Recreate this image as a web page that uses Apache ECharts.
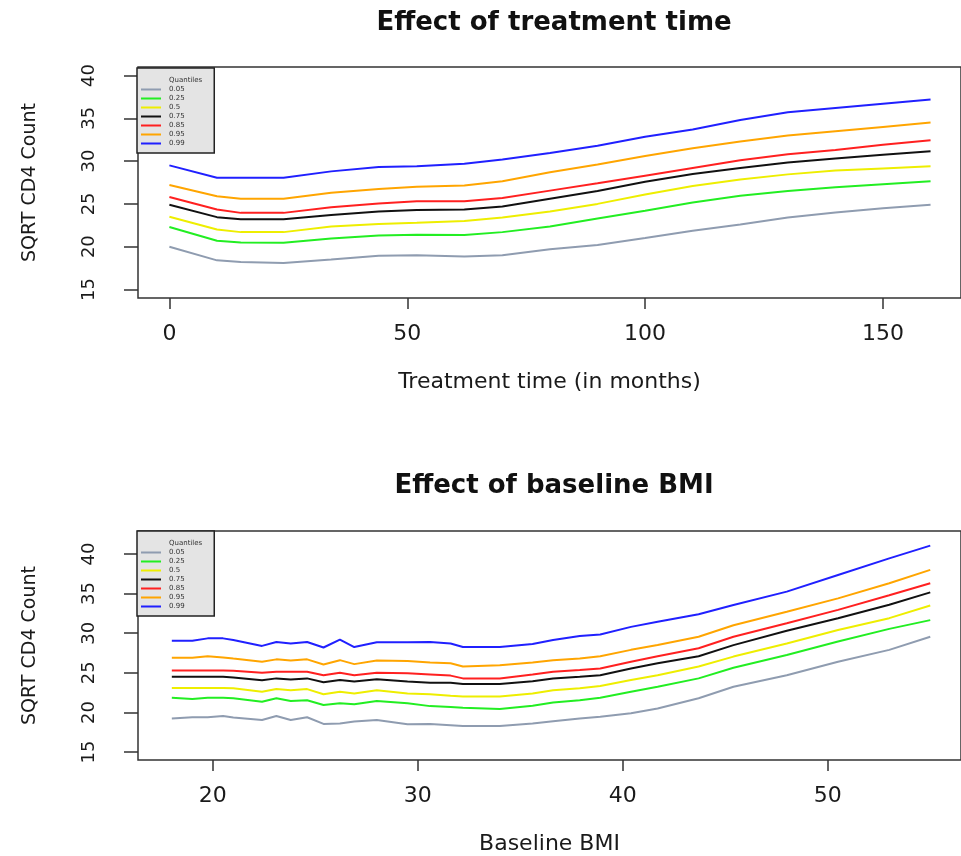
<!DOCTYPE html>
<html>
<head>
    <meta http-equiv="Content-Type" content="text/html; charset=utf-8"/>
    <title>Quantile effects</title>
    <style type="text/css">
        body, #chart {
            border: 0px;
            margin: 0px;
            padding: 0px;
        }
        #chart {
            width: 961px;
            height: 856px;
            background: white;
        }
    </style>
    <script type="text/javascript" src="https://cdn.jsdelivr.net/npm/echarts@6/dist/echarts.min.js"></script>
    <script type="text/javascript">
        // quantile names and their line colours
        var quantNames = ['0.05', '0.25', '0.5', '0.75', '0.85', '0.95', '0.99'];
        var quantColors = ['#8f9cb0', '#22ee22', '#eeee00', '#111111', '#ff2020', '#ffa500', '#2020ff'];

        // tick labels
        var countTicks = [15, 20, 25, 30, 35, 40];
        var treatTicks = [0, 50, 100, 150];
        var bmiTicks = [20, 30, 40, 50];

        // top panel: treatment time (months)
        var treatMonths = [0, 10, 15, 24, 34, 44, 52, 62, 70, 80, 90, 100, 110, 120, 130, 140, 150, 160];
        var timeQ05 = [20.0, 18.4, 18.2, 18.1, 18.5, 18.95, 19.0, 18.85, 19.0, 19.7, 20.2, 21.0, 21.85, 22.6, 23.4, 24.0, 24.5, 24.9];
        var timeQ25 = [22.3, 20.7, 20.5, 20.45, 20.95, 21.3, 21.4, 21.35, 21.7, 22.35, 23.3, 24.2, 25.15, 25.95, 26.5, 26.95, 27.3, 27.65];
        var timeQ50 = [23.5, 22.0, 21.7, 21.7, 22.35, 22.65, 22.8, 23.0, 23.4, 24.1, 25.0, 26.1, 27.1, 27.85, 28.45, 28.9, 29.15, 29.4];
        var timeQ75 = [24.9, 23.45, 23.2, 23.2, 23.7, 24.1, 24.3, 24.35, 24.7, 25.6, 26.5, 27.6, 28.5, 29.2, 29.85, 30.3, 30.75, 31.15];
        var timeQ85 = [25.8, 24.35, 23.95, 23.95, 24.6, 25.05, 25.3, 25.3, 25.7, 26.55, 27.4, 28.3, 29.2, 30.1, 30.8, 31.3, 31.9, 32.45];
        var timeQ95 = [27.2, 25.9, 25.6, 25.6, 26.3, 26.75, 27.0, 27.15, 27.65, 28.7, 29.6, 30.6, 31.5, 32.3, 33.0, 33.5, 34.0, 34.5];
        var timeQ99 = [29.5, 28.05, 28.05, 28.05, 28.8, 29.3, 29.4, 29.7, 30.2, 30.95, 31.8, 32.85, 33.7, 34.8, 35.7, 36.2, 36.7, 37.2];

        // bottom panel: baseline BMI
        var bmi = [18, 19, 19.75, 20.5, 21, 22.4, 23.1, 23.8, 24.6, 25.4, 26.2, 26.9, 28, 29.5, 30.6, 31.6, 32.2, 34, 35.6, 36.6, 37.9, 38.9, 40.4, 41.7, 43.7, 45.4, 48, 50.5, 53, 55];
        var bmiQ05 = [19.25, 19.4, 19.4, 19.55, 19.35, 19.05, 19.55, 19.05, 19.4, 18.55, 18.6, 18.85, 19.05, 18.5, 18.55, 18.4, 18.3, 18.3, 18.6, 18.9, 19.25, 19.45, 19.9, 20.5, 21.8, 23.25, 24.7, 26.4, 27.9, 29.55];
        var bmiQ25 = [21.85, 21.7, 21.85, 21.85, 21.8, 21.35, 21.8, 21.45, 21.55, 20.95, 21.15, 21.05, 21.45, 21.15, 20.8, 20.7, 20.6, 20.45, 20.85, 21.25, 21.55, 21.85, 22.6, 23.25, 24.3, 25.65, 27.25, 28.95, 30.55, 31.65];
        var bmiQ50 = [23.1, 23.1, 23.1, 23.1, 23.05, 22.6, 22.95, 22.8, 22.95, 22.3, 22.6, 22.4, 22.8, 22.4, 22.3, 22.1, 22.0, 22.0, 22.4, 22.8, 23.05, 23.35, 24.1, 24.7, 25.8, 27.05, 28.7, 30.4, 31.9, 33.5];
        var bmiQ75 = [24.5, 24.5, 24.5, 24.5, 24.4, 24.05, 24.3, 24.15, 24.3, 23.8, 24.1, 23.9, 24.2, 23.9, 23.75, 23.75, 23.6, 23.6, 23.95, 24.3, 24.5, 24.7, 25.55, 26.2, 27.1, 28.5, 30.3, 31.9, 33.6, 35.15];
        var bmiQ85 = [25.3, 25.3, 25.3, 25.3, 25.25, 25.0, 25.15, 25.15, 25.15, 24.7, 25.0, 24.7, 25.0, 24.95, 24.8, 24.65, 24.3, 24.3, 24.8, 25.15, 25.35, 25.55, 26.4, 27.1, 28.1, 29.55, 31.25, 32.95, 34.8, 36.3];
        var bmiQ95 = [26.9, 26.9, 27.1, 26.95, 26.8, 26.4, 26.7, 26.55, 26.7, 26.05, 26.6, 26.1, 26.55, 26.5, 26.3, 26.2, 25.8, 25.95, 26.3, 26.6, 26.8, 27.1, 27.9, 28.5, 29.55, 31.0, 32.7, 34.4, 36.3, 38.0];
        var bmiQ99 = [29.05, 29.05, 29.35, 29.35, 29.15, 28.4, 28.9, 28.7, 28.9, 28.2, 29.2, 28.25, 28.85, 28.85, 28.9, 28.7, 28.25, 28.25, 28.65, 29.15, 29.65, 29.85, 30.8, 31.45, 32.4, 33.55, 35.25, 37.35, 39.45, 41.05];

        var FONT = 'DejaVu Sans';

        function pairs(xs, ys) {
            var out = [];
            for (var i = 0; i < xs.length; i++) {
                out.push([xs[i], ys[i]]);
            }
            return out;
        }

        function xAxisFor(grid, min, max, ticks, name) {
            return {
                gridIndex: grid, type: 'value', min: min, max: max,
                axisLine: {show: false, onZero: false},
                splitLine: {show: false},
                axisTick: {show: true, length: 11, customValues: ticks, lineStyle: {color: '#333', width: 1.5}},
                axisLabel: {customValues: ticks, fontSize: 22, margin: 25, fontFamily: FONT, color: '#1a1a1a'},
                name: name, nameLocation: 'middle', nameGap: 73,
                nameTextStyle: {fontSize: 22, fontFamily: FONT, color: '#1a1a1a'}
            };
        }

        function yAxisFor(grid, min, max) {
            return {
                gridIndex: grid, type: 'value', min: min, max: max,
                axisLine: {show: false, onZero: false},
                splitLine: {show: false},
                axisTick: {show: true, length: 14, customValues: countTicks, lineStyle: {color: '#333', width: 1.5}},
                axisLabel: {customValues: countTicks, rotate: 90, fontSize: 18, margin: 40, fontFamily: FONT, color: '#1a1a1a'},
                name: 'SQRT CD4 Count', nameLocation: 'middle', nameRotate: 90, nameGap: 98,
                nameTextStyle: {fontSize: 19, fontFamily: FONT, color: '#1a1a1a'}
            };
        }

        function legendFor(top) {
            var data = [{name: 'Quantiles', icon: 'none'}];
            for (var i = 0; i < quantNames.length; i++) {
                data.push({name: quantNames[i], icon: 'rect'});
            }
            return {
                orient: 'vertical', left: 137, top: top,
                data: data, selectedMode: false,
                itemWidth: 20, itemHeight: 2, itemGap: 2,
                padding: [9, 12, 6, 4],
                backgroundColor: '#e4e4e4', borderColor: '#222', borderWidth: 1.5, borderRadius: 0,
                textStyle: {fontSize: 7, lineHeight: 7, color: '#333', fontFamily: FONT, padding: [0, 0, 0, 3]}
            };
        }

        function init() {
            var timeSets = [timeQ05, timeQ25, timeQ50, timeQ75, timeQ85, timeQ95, timeQ99];
            var bmiSets = [bmiQ05, bmiQ25, bmiQ50, bmiQ75, bmiQ85, bmiQ95, bmiQ99];
            var series = [
                {name: 'Quantiles', type: 'line', data: [], xAxisIndex: 0, yAxisIndex: 0, symbol: 'none',
                    lineStyle: {opacity: 0}}
            ];
            for (var i = 0; i < quantNames.length; i++) {
                series.push({
                    name: quantNames[i], type: 'line', xAxisIndex: 0, yAxisIndex: 0,
                    data: pairs(treatMonths, timeSets[i]), symbol: 'none',
                    lineStyle: {color: quantColors[i], width: 2}, itemStyle: {color: quantColors[i]}
                });
                series.push({
                    name: quantNames[i], type: 'line', xAxisIndex: 1, yAxisIndex: 1,
                    data: pairs(bmi, bmiSets[i]), symbol: 'none',
                    lineStyle: {color: quantColors[i], width: 2}, itemStyle: {color: quantColors[i]}
                });
            }

            var chart = echarts.init(document.getElementById('chart'));
            chart.setOption({
                animation: false,
                backgroundColor: '#fff',
                title: [
                    {text: 'Effect of treatment time', left: 549, top: 5, textAlign: 'center',
                        textStyle: {fontFamily: FONT, fontWeight: 'bold', fontSize: 26, color: '#111'}},
                    {text: 'Effect of baseline BMI', left: 549, top: 468, textAlign: 'center',
                        textStyle: {fontFamily: FONT, fontWeight: 'bold', fontSize: 26, color: '#111'}}
                ],
                legend: [legendFor(68), legendFor(531)],
                grid: [
                    {left: 138, top: 67, width: 834, height: 231, show: true, borderColor: '#333', borderWidth: 1.5},
                    {left: 138, top: 531, width: 834, height: 229, show: true, borderColor: '#333', borderWidth: 1.5}
                ],
                xAxis: [
                    xAxisFor(0, -6.6, 166.4, treatTicks, 'Treatment time (in months)'),
                    xAxisFor(1, 16.35, 56.5, bmiTicks, 'Baseline BMI')
                ],
                yAxis: [
                    yAxisFor(0, 14, 41),
                    yAxisFor(1, 14, 42.9)
                ],
                series: series
            });
        }
    </script>
</head>
<body onLoad="init()">
<div id="chart"></div>
</body>
</html>
